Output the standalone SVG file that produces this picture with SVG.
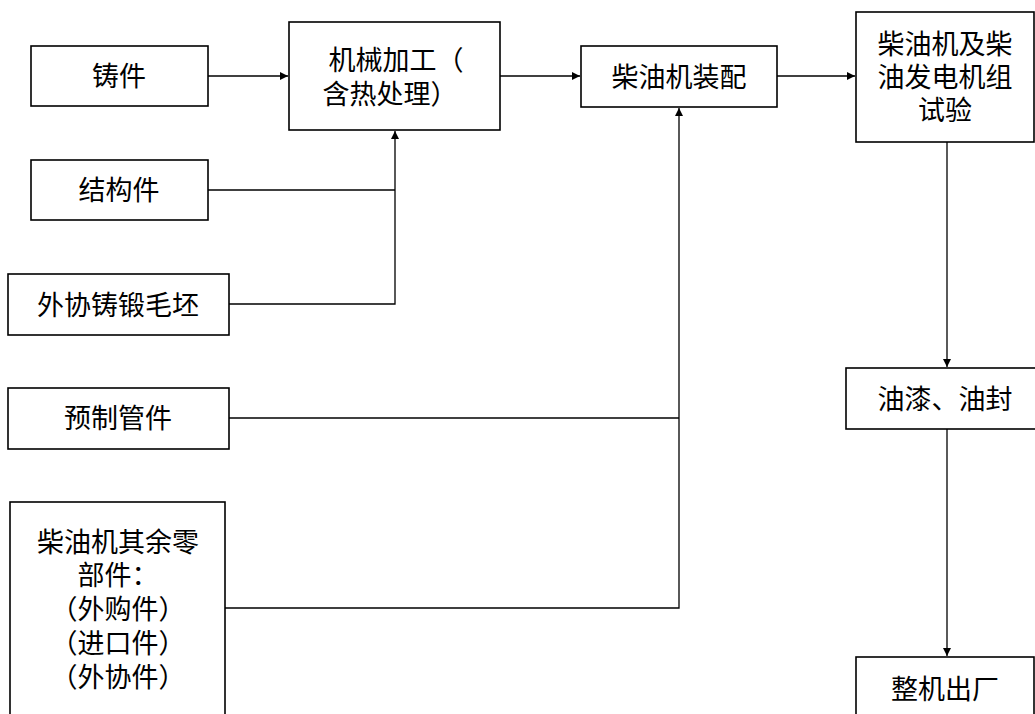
<svg xmlns="http://www.w3.org/2000/svg" width="1035" height="714" viewBox="0 0 1035 714">
<style>
.box{fill:#fff;stroke:#000;stroke-width:1.6}
.t{font-family:"Noto Sans CJK SC","Noto Sans CJK JP",sans-serif;font-size:27px;fill:#000;text-anchor:middle}
.c{fill:none;stroke:#000;stroke-width:1.3}
</style>
<defs>
<marker id="ah" markerUnits="userSpaceOnUse" markerWidth="9" markerHeight="8" refX="8" refY="4" orient="auto">
<path d="M0,0 L8,4 L0,8 z" fill="#000"/>
</marker>
</defs>
<rect width="1035" height="714" fill="#fff"/>
<g id="connectors">
<path class="c" d="M208,76 H288" marker-end="url(#ah)"/>
<path class="c" d="M500,76 H580" marker-end="url(#ah)"/>
<path class="c" d="M777,76 H855" marker-end="url(#ah)"/>
<path class="c" d="M208,190 H395"/>
<path class="c" d="M229,304 H395 V131" marker-end="url(#ah)"/>
<path class="c" d="M229,418 H679"/>
<path class="c" d="M225,608 H679 V108" marker-end="url(#ah)"/>
<path class="c" d="M947,142 V367" marker-end="url(#ah)"/>
<path class="c" d="M947,429 V656" marker-end="url(#ah)"/>
</g>
<g id="zhujian"><rect class="box" x="31" y="46" width="177" height="60"/><text class="t" x="119" y="86">铸件</text></g>
<g id="jiegoujian"><rect class="box" x="31" y="160" width="177" height="60"/><text class="t" x="119" y="200">结构件</text></g>
<g id="waixie"><rect class="box" x="8" y="274" width="221" height="61"/><text class="t" x="118" y="315">外协铸锻毛坯</text></g>
<g id="yuzhi"><rect class="box" x="8" y="388" width="221" height="61"/><text class="t" x="118" y="428">预制管件</text></g>
<g id="qiyu"><rect class="box" x="10" y="502" width="215" height="230"/>
<text class="t" x="118" y="552">柴油机其余零</text>
<text class="t" x="118" y="585">部件：</text>
<text class="t" x="118" y="619">（外购件）</text>
<text class="t" x="118" y="653">（进口件）</text>
<text class="t" x="118" y="687">（外协件）</text>
</g>
<g id="jixie"><rect class="box" x="289" y="22" width="211" height="108"/>
<text class="t" x="396" y="70">机械加工（</text>
<text class="t" x="390" y="104">含热处理）</text>
</g>
<g id="zhuangpei"><rect class="box" x="581" y="46" width="196" height="61"/><text class="t" x="679" y="87">柴油机装配</text></g>
<g id="shiyan"><rect class="box" x="856" y="12" width="178" height="130"/>
<text class="t" x="945" y="54">柴油机及柴</text>
<text class="t" x="945" y="87">油发电机组</text>
<text class="t" x="945" y="120">试验</text>
</g>
<g id="youqi"><rect class="box" x="846" y="368" width="200" height="61"/><text class="t" x="945" y="409">油漆、油封</text></g>
<g id="chuchang"><rect class="box" x="856" y="657" width="178" height="80"/><text class="t" x="945" y="699">整机出厂</text></g>
</svg>
